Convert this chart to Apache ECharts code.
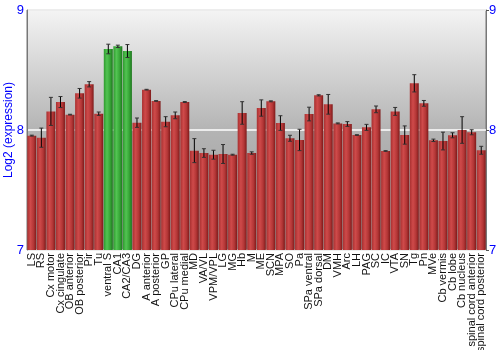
<!DOCTYPE html>
<html><head><meta charset="utf-8">
<script src="https://cdn.jsdelivr.net/npm/echarts@6/dist/echarts.min.js"></script>
<style>html,body{margin:0;padding:0;background:#fff}#c{width:500px;height:350px}</style>
</head><body><div id="c"></div>
<script>
const categories = ["LS","RS","Cx motor","Cx cingulate","OB anterior","OB posterior","Pir","Tu","ventral S","CA1","CA2/CA3","DG","A anterior","A posterior","GP","CPu lateral","CPu medial","MD","VA/VL","VPM/VPL","LG","MG","Hb","M","ME","SCN","MPA","SO","Pa","SPa ventral","SPa dorsal","DM","VMH","Arc","LH","PAG","SC","IC","VTA","SN","Tg","Pn","MVe","Cb vermis","Cb lobe","Cb nucleus","spinal cord anterior","spinal cord posterior"];
const values = [7.953,7.936,8.155,8.233,8.128,8.306,8.381,8.136,8.675,8.697,8.658,8.061,8.336,8.242,8.069,8.122,8.233,7.828,7.808,7.794,7.800,7.794,8.142,7.808,8.183,8.239,8.058,7.931,7.917,8.133,8.289,8.214,8.055,8.050,7.958,8.022,8.172,7.825,8.155,7.958,8.389,8.222,7.914,7.908,7.956,8.000,7.981,7.831];
const errors = [0.004,0.08,0.117,0.046,0.003,0.04,0.022,0.014,0.04,0.01,0.054,0.039,0.003,0.003,0.042,0.028,0.004,0.1,0.036,0.037,0.079,0.004,0.094,0.01,0.068,0.004,0.061,0.025,0.089,0.057,0.005,0.082,0.004,0.02,0.003,0.025,0.028,0.003,0.033,0.076,0.072,0.024,0.01,0.074,0.021,0.111,0.021,0.033];
const highlighted = ["ventral S","CA1","CA2/CA3"];

const redGrad = {type:'linear',x:0,y:0,x2:1,y2:0,colorStops:[{offset:0,color:'#a83030'},{offset:0.35,color:'#cf4a4a'},{offset:0.7,color:'#b33636'},{offset:1,color:'#7e1a1a'}]};
const greenGrad = {type:'linear',x:0,y:0,x2:1,y2:0,colorStops:[{offset:0,color:'#2f9a2f'},{offset:0.35,color:'#52c452'},{offset:0.7,color:'#37a637'},{offset:1,color:'#1d741d'}]};

const barData = values.map((v,i)=>({value:v,itemStyle:{color: highlighted.includes(categories[i]) ? greenGrad : redGrad}}));
const errData = values.map((v,i)=>[i, v-errors[i], v+errors[i]]);

const chart = echarts.init(document.getElementById('c'));
chart.setOption({
  animation:false,
  grid:{left:27,right:14,top:10,bottom:100,containLabel:false,outerBoundsMode:'none',show:true,borderColor:'#777',borderWidth:1,
    backgroundColor:{type:'linear',x:0,y:0,x2:0,y2:1,colorStops:[{offset:0,color:'#f4f4f4'},{offset:0.5,color:'#b4b4b4'},{offset:1,color:'#979797'}]}},
  xAxis:{type:'category',data:categories,
    axisLine:{show:false},axisTick:{show:false},
    axisLabel:{rotate:90,interval:0,fontFamily:'Liberation Sans',fontSize:11,color:'#111',margin:3}},
  yAxis:[
    {type:'value',min:7,max:9,interval:1,
     name:'Log2 (expression)',nameLocation:'middle',nameGap:12,nameMoveOverlap:false,
     nameTextStyle:{color:'#0000ff',fontFamily:'Liberation Sans',fontSize:12},
     axisLine:{show:true,lineStyle:{color:'#777'}},axisTick:{show:false},
     axisLabel:{color:'#0000ff',fontFamily:'Liberation Sans',fontSize:13,margin:3},
     splitLine:{show:true,lineStyle:{color:'#ffffff',width:1.5}}},
    {type:'value',min:7,max:9,interval:1,position:'right',
     axisLine:{show:true,lineStyle:{color:'#777'}},axisTick:{show:true,length:3,lineStyle:{color:'#555'}},
     axisLabel:{color:'#0000ff',fontFamily:'Liberation Sans',fontSize:13,margin:3},
     splitLine:{show:false}}
  ],
  series:[
    {type:'bar',data:barData,barCategoryGap:'6%'},
    {type:'custom',data:errData,z:10,
     renderItem:function(params,api){
       const x = api.value(0);
       const lo = api.coord([x, api.value(1)]);
       const hi = api.coord([x, api.value(2)]);
       const cx = lo[0]; const w = 2;
       const st = {stroke:'#000',lineWidth:1};
       return {type:'group',children:[
         {type:'line',shape:{x1:cx,y1:lo[1],x2:cx,y2:hi[1]},style:st},
         {type:'line',shape:{x1:cx-w,y1:lo[1],x2:cx+w,y2:lo[1]},style:{stroke:'#333',lineWidth:1}},
         {type:'line',shape:{x1:cx-w,y1:hi[1],x2:cx+w,y2:hi[1]},style:{stroke:'#333',lineWidth:1}}
       ]};
     }}
  ]
});
</script></body></html>
